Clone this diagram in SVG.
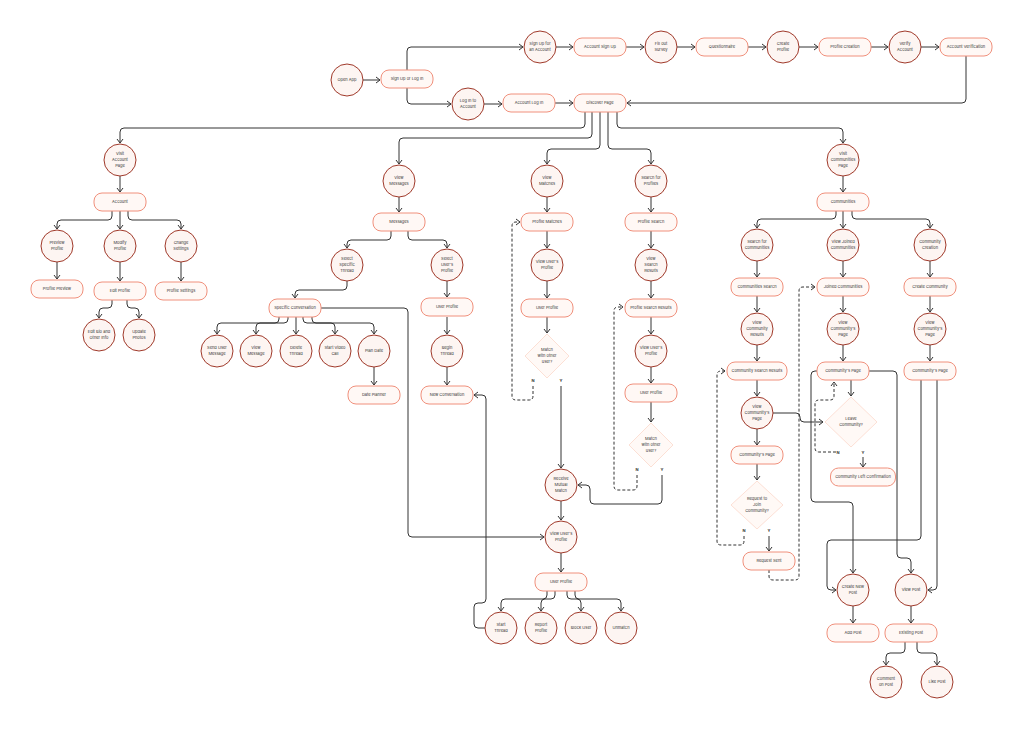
<svg xmlns="http://www.w3.org/2000/svg" width="1024" height="730" viewBox="0 0 1024 730">
<defs>
<style>
.c{fill:#fdf5f2;stroke:#a0392a;stroke-width:1}
.r{fill:#fff8f5;stroke:#f0907c;stroke-width:1}
.d{fill:#fff9f6;stroke:#fbd8cb;stroke-width:0.8}
text{font-family:Inter,"Liberation Sans",sans-serif;font-size:4px;fill:#333;text-anchor:middle}
.l{font-weight:bold;font-size:4px}
.e path{fill:none;stroke:#333;stroke-width:1;marker-end:url(#a)}
.e path.n{marker-end:none}
.e path.ds{stroke-dasharray:3 2}
</style>
<marker id="a" viewBox="-5 -4 6 8" refX="0" refY="0" markerWidth="6" markerHeight="8" markerUnits="userSpaceOnUse" orient="auto"><path d="M-4,-3 L0,0 L-4,3" fill="none" stroke="#333" stroke-width="1"/></marker>
</defs>
<rect width="1024" height="730" fill="#ffffff"/>

<g id="connectors" class="e">
<path d="M363,80 H380"/>
<path d="M407,70 V51 Q407,47 411,47 H523"/>
<path d="M407,88 V100 Q407,104 411,104 H451"/>
<path d="M556,47 H573"/>
<path d="M626,47 H644"/>
<path d="M677,47 H695"/>
<path d="M748,47 H766"/>
<path d="M799,47 H818"/>
<path d="M871,47 H888"/>
<path d="M921,47 H939"/>
<path d="M966,56 V99 Q966,103 962,103 H627"/>
<path d="M484,104 H502"/>
<path d="M555,103 H573"/>
<path d="M585,112 V124 Q585,128 581,128 H124 Q120,128 120,132 V143"/>
<path d="M592,112 V134 Q592,138 588,138 H403 Q399,138 399,142 V164"/>
<path d="M600,112 V145 Q600,149 596,149 H551 Q547,149 547,153 V164"/>
<path d="M608,112 V145 Q608,149 612,149 H647 Q651,149 651,153 V164"/>
<path d="M617,112 V124 Q617,128 621,128 H839 Q843,128 843,132 V143"/>
<path d="M120,176 V192"/>
<path d="M112,211 V216 Q112,220 108,220 H61 Q57,220 57,224 V229"/>
<path d="M120,211 V229"/>
<path d="M128,211 V216 Q128,220 132,220 H177 Q181,220 181,224 V229"/>
<path d="M57,262 V279"/>
<path d="M120,262 V281"/>
<path d="M181,262 V281"/>
<path d="M112,300 V304 Q112,308 108,308 H103 Q99,308 99,312 V318"/>
<path d="M127,300 V304 Q127,308 131,308 H135 Q139,308 139,312 V318"/>
<path d="M399,197 V212"/>
<path d="M391,231 V236 Q391,240 387,240 H351 Q347,240 347,244 V248"/>
<path d="M408,231 V236 Q408,240 412,240 H443 Q447,240 447,244 V248"/>
<path d="M347,281 V286 Q347,290 343,290 H299 Q295,290 295,294 V298"/>
<path d="M447,281 V297"/>
<path d="M447,317 V334"/>
<path d="M447,367 V385"/>
<path d="M279,317 V319 Q279,323 275,323 H221 Q217,323 217,327 V334"/>
<path d="M288,317 V319 Q288,323 284,323 H260 Q256,323 256,327 V334"/>
<path d="M296,317 V334"/>
<path d="M303,317 V319 Q303,323 307,323 H331 Q335,323 335,327 V334"/>
<path d="M312,317 V319 Q312,323 316,323 H370 Q374,323 374,327 V334"/>
<path d="M374,367 V385"/>
<path d="M321,308 H404 Q408,308 408,312 V533 Q408,537 412,537 H544"/>
<path d="M547,197 V212"/>
<path d="M547,231 V248"/>
<path d="M547,281 V298"/>
<path d="M547,317 V333"/>
<path class="ds" d="M533,386 V396 Q533,400 529,400 H516 Q512,400 512,396 V226 Q512,222 516,222 H520"/>
<path d="M561,386 V468"/>
<path d="M651,197 V212"/>
<path d="M651,231 V248"/>
<path d="M651,281 V298"/>
<path d="M651,317 V334"/>
<path d="M651,367 V383"/>
<path d="M651,402 V422"/>
<path class="ds" d="M637,475 V486 Q637,490 633,490 H618 Q614,490 614,486 V311 Q614,307 618,307 H623"/>
<path d="M662,475 V500 Q662,504 658,504 H594 Q590,504 590,500 V489 Q590,485 586,485 H578"/>
<path d="M561,501 V520"/>
<path d="M561,553 V572"/>
<path d="M547,591 V595 Q547,599 543,599 H505 Q501,599 501,603 V611"/>
<path d="M555,591 V595 Q555,599 551,599 H545 Q541,599 541,603 V611"/>
<path d="M567,591 V595 Q567,599 571,599 H577 Q581,599 581,603 V611"/>
<path d="M575,591 V595 Q575,599 579,599 H617 Q621,599 621,603 V611"/>
<path d="M485,628 H478 Q474,628 474,624 V607 Q474,603 478,603 H482 Q486,603 486,599 V399 Q486,395 482,395 H474"/>
<path d="M843,176 V192"/>
<path d="M836,211 V215 Q836,219 832,219 H761 Q757,219 757,223 V228"/>
<path d="M843,211 V228"/>
<path d="M852,211 V215 Q852,219 856,219 H926 Q930,219 930,223 V228"/>
<path d="M757,261 V277"/>
<path d="M843,261 V277"/>
<path d="M930,261 V277"/>
<path d="M757,296 V312"/>
<path d="M843,296 V312"/>
<path d="M930,296 V312"/>
<path d="M757,345 V361"/>
<path d="M843,345 V361"/>
<path d="M930,345 V361"/>
<path d="M757,380 V396"/>
<path d="M757,429 V445"/>
<path d="M757,464 V480"/>
<path class="ds" d="M744,536 V541 Q744,545 740,545 H721 Q717,545 717,541 V375 Q717,371 721,371 H725"/>
<path d="M769,536 V551"/>
<path class="ds" d="M769,570 V576 Q769,580 773,580 H795 Q799,580 799,576 V291 Q799,287 803,287 H815"/>
<path d="M773,413 H796 Q800,413 800,417 V418 Q800,422 804,422 H823"/>
<path d="M851,380 V396"/>
<path class="ds" d="M836,452 H819 Q815,452 815,448 V404 Q815,400 819,400 H830 Q834,400 834,396 V382"/>
<path d="M863,457 V467"/>
<path d="M817,371 H815 Q811,371 811,375 V498 Q811,502 815,502 H849 Q853,502 853,506 V573"/>
<path d="M869,371 H893 Q897,371 897,375 V554 Q897,558 901,558 H907 Q911,558 911,562 V573"/>
<path d="M921,380 V536 Q921,540 917,540 H831 Q827,540 827,544 V586 Q827,590 831,590 H836"/>
<path d="M937,380 V586 Q937,590 933,590 H928"/>
<path d="M853,606 V623"/>
<path d="M911,606 V623"/>
<path d="M905,642 V649 Q905,653 901,653 H890 Q886,653 886,657 V665"/>
<path d="M917,642 V649 Q917,653 921,653 H933 Q937,653 937,657 V665"/>
</g>

<g id="edge-labels">
<text class="l" x="533" y="382.4">N</text><text class="l" x="561" y="382.4">Y</text>
<text class="l" x="637" y="471.4">N</text><text class="l" x="662" y="471.4">Y</text>
<text class="l" x="744" y="532.4">N</text><text class="l" x="769" y="532.4">Y</text>
<text class="l" x="838" y="454.4">N</text><text class="l" x="863" y="454.4">Y</text>
</g>

<!-- Circles -->
<g id="open-app"><circle class="c" cx="347" cy="80" r="16"/><text x="347" y="81.4">Open App</text></g>
<g id="sign-up-for-account"><circle class="c" cx="540" cy="47" r="16"/><text x="540" y="45.4">Sign Up for</text><text x="540" y="51.4">an Account</text></g>
<g id="fill-out-survey"><circle class="c" cx="661" cy="47" r="16"/><text x="661" y="45.4">Fill out</text><text x="661" y="51.4">Survey</text></g>
<g id="create-profile"><circle class="c" cx="783" cy="47" r="16"/><text x="783" y="45.4">Create</text><text x="783" y="51.4">Profile</text></g>
<g id="verify-account"><circle class="c" cx="905" cy="47" r="16"/><text x="905" y="45.4">Verify</text><text x="905" y="51.4">Account</text></g>
<g id="log-in-to-account"><circle class="c" cx="468" cy="104" r="16"/><text x="468" y="102.4">Log In to</text><text x="468" y="108.4">Account</text></g>
<g id="visit-account-page"><circle class="c" cx="120" cy="160" r="16"/><text x="120" y="155.4">Visit</text><text x="120" y="161.4">Account</text><text x="120" y="167.4">Page</text></g>
<g id="preview-profile"><circle class="c" cx="57" cy="246" r="16"/><text x="57" y="244.4">Preview</text><text x="57" y="250.4">Profile</text></g>
<g id="modify-profile"><circle class="c" cx="120" cy="246" r="16"/><text x="120" y="244.4">Modify</text><text x="120" y="250.4">Profile</text></g>
<g id="change-settings"><circle class="c" cx="181" cy="246" r="16"/><text x="181" y="244.4">Change</text><text x="181" y="250.4">Settings</text></g>
<g id="edit-bio"><circle class="c" cx="99" cy="335" r="16"/><text x="99" y="333.4">Edit Bio and</text><text x="99" y="339.4">Other Info</text></g>
<g id="update-photos"><circle class="c" cx="139" cy="335" r="16"/><text x="139" y="333.4">Update</text><text x="139" y="339.4">Photos</text></g>
<g id="view-messages"><circle class="c" cx="399" cy="181" r="16"/><text x="399" y="179.4">View</text><text x="399" y="185.4">Messages</text></g>
<g id="select-specific-thread"><circle class="c" cx="347" cy="265" r="16"/><text x="347" y="260.4">Select</text><text x="347" y="266.4">Specific</text><text x="347" y="272.4">Thread</text></g>
<g id="select-users-profile"><circle class="c" cx="447" cy="265" r="16"/><text x="447" y="260.4">Select</text><text x="447" y="266.4">User's</text><text x="447" y="272.4">Profile</text></g>
<g id="send-user-message"><circle class="c" cx="217" cy="351" r="16"/><text x="217" y="349.4">Send User</text><text x="217" y="355.4">Message</text></g>
<g id="view-message"><circle class="c" cx="256" cy="351" r="16"/><text x="256" y="349.4">View</text><text x="256" y="355.4">Message</text></g>
<g id="delete-thread"><circle class="c" cx="296" cy="351" r="16"/><text x="296" y="349.4">Delete</text><text x="296" y="355.4">Thread</text></g>
<g id="start-video-call"><circle class="c" cx="335" cy="351" r="16"/><text x="335" y="349.4">Start Video</text><text x="335" y="355.4">Call</text></g>
<g id="plan-date"><circle class="c" cx="374" cy="351" r="16"/><text x="374" y="352.4">Plan Date</text></g>
<g id="begin-thread"><circle class="c" cx="447" cy="351" r="16"/><text x="447" y="349.4">Begin</text><text x="447" y="355.4">Thread</text></g>
<g id="view-matches"><circle class="c" cx="547" cy="181" r="16"/><text x="547" y="179.4">View</text><text x="547" y="185.4">Matches</text></g>
<g id="search-for-profiles"><circle class="c" cx="651" cy="181" r="16"/><text x="651" y="179.4">Search for</text><text x="651" y="185.4">Profiles</text></g>
<g id="view-users-profile-1"><circle class="c" cx="547" cy="265" r="16"/><text x="547" y="263.4">View User's</text><text x="547" y="269.4">Profile</text></g>
<g id="view-search-results"><circle class="c" cx="651" cy="265" r="16"/><text x="651" y="260.4">View</text><text x="651" y="266.4">Search</text><text x="651" y="272.4">Results</text></g>
<g id="view-users-profile-2"><circle class="c" cx="651" cy="351" r="16"/><text x="651" y="349.4">View User's</text><text x="651" y="355.4">Profile</text></g>
<g id="receive-mutual-match"><circle class="c" cx="561" cy="485" r="16"/><text x="561" y="480.4">Receive</text><text x="561" y="486.4">Mutual</text><text x="561" y="492.4">Match</text></g>
<g id="view-users-profile-3"><circle class="c" cx="561" cy="537" r="16"/><text x="561" y="535.4">View User's</text><text x="561" y="541.4">Profile</text></g>
<g id="start-thread"><circle class="c" cx="501" cy="628" r="16"/><text x="501" y="626.4">Start</text><text x="501" y="632.4">Thread</text></g>
<g id="report-profile"><circle class="c" cx="541" cy="628" r="16"/><text x="541" y="626.4">Report</text><text x="541" y="632.4">Profile</text></g>
<g id="block-user"><circle class="c" cx="581" cy="628" r="16"/><text x="581" y="629.4">Block User</text></g>
<g id="unmatch"><circle class="c" cx="621" cy="628" r="16"/><text x="621" y="629.4">Unmatch</text></g>
<g id="visit-communities-page"><circle class="c" cx="843" cy="160" r="16"/><text x="843" y="155.4">Visit</text><text x="843" y="161.4">Communities</text><text x="843" y="167.4">Page</text></g>
<g id="search-for-communities"><circle class="c" cx="757" cy="245" r="16"/><text x="757" y="243.4">Search for</text><text x="757" y="249.4">Communities</text></g>
<g id="view-joined-communities"><circle class="c" cx="843" cy="245" r="16"/><text x="843" y="243.4">View Joined</text><text x="843" y="249.4">Communities</text></g>
<g id="community-creation"><circle class="c" cx="930" cy="245" r="16"/><text x="930" y="243.4">Community</text><text x="930" y="249.4">Creation</text></g>
<g id="view-community-results"><circle class="c" cx="757" cy="329" r="16"/><text x="757" y="324.4">View</text><text x="757" y="330.4">Community</text><text x="757" y="336.4">Results</text></g>
<g id="view-communitys-page-1"><circle class="c" cx="843" cy="329" r="16"/><text x="843" y="324.4">View</text><text x="843" y="330.4">Community's</text><text x="843" y="336.4">Page</text></g>
<g id="view-communitys-page-2"><circle class="c" cx="930" cy="329" r="16"/><text x="930" y="324.4">View</text><text x="930" y="330.4">Community's</text><text x="930" y="336.4">Page</text></g>
<g id="view-communitys-page-3"><circle class="c" cx="757" cy="413" r="16"/><text x="757" y="408.4">View</text><text x="757" y="414.4">Community's</text><text x="757" y="420.4">Page</text></g>
<g id="create-new-post"><circle class="c" cx="853" cy="590" r="16"/><text x="853" y="588.4">Create New</text><text x="853" y="594.4">Post</text></g>
<g id="view-post"><circle class="c" cx="911" cy="590" r="16"/><text x="911" y="591.4">View Post</text></g>
<g id="comment-on-post"><circle class="c" cx="886" cy="682" r="16"/><text x="886" y="680.4">Comment</text><text x="886" y="686.4">on Post</text></g>
<g id="like-post"><circle class="c" cx="937" cy="682" r="16"/><text x="937" y="683.4">Like Post</text></g>

<!-- Rects -->
<g id="sign-up-or-log-in"><rect class="r" x="381" y="70" width="52" height="18" rx="8"/><text x="407" y="80.4">Sign Up or Log In</text></g>
<g id="account-sign-up"><rect class="r" x="574" y="38" width="52" height="18" rx="8"/><text x="600" y="48.4">Account Sign Up</text></g>
<g id="questionnaire"><rect class="r" x="696" y="38" width="52" height="18" rx="8"/><text x="722" y="48.4">Questionnaire</text></g>
<g id="profile-creation"><rect class="r" x="819" y="38" width="52" height="18" rx="8"/><text x="845" y="48.4">Profile Creation</text></g>
<g id="account-verification"><rect class="r" x="940" y="38" width="52" height="18" rx="8"/><text x="966" y="48.4">Account Verification</text></g>
<g id="account-log-in"><rect class="r" x="503" y="94" width="52" height="18" rx="8"/><text x="529" y="104.4">Account Log In</text></g>
<g id="discover-page"><rect class="r" x="574" y="94" width="52" height="18" rx="8"/><text x="600" y="104.4">Discover Page</text></g>
<g id="account"><rect class="r" x="94" y="193" width="52" height="18" rx="8"/><text x="120" y="203.4">Account</text></g>
<g id="profile-preview"><rect class="r" x="31" y="280" width="52" height="18" rx="8"/><text x="57" y="290.4">Profile Preview</text></g>
<g id="edit-profile"><rect class="r" x="94" y="282" width="52" height="18" rx="8"/><text x="120" y="292.4">Edit Profile</text></g>
<g id="profile-settings"><rect class="r" x="155" y="282" width="52" height="18" rx="8"/><text x="181" y="292.4">Profile Settings</text></g>
<g id="messages"><rect class="r" x="373" y="213" width="52" height="18" rx="8"/><text x="399" y="223.4">Messages</text></g>
<g id="specific-conversation"><rect class="r" x="269" y="299" width="52" height="18" rx="8"/><text x="295" y="309.4">Specific Conversation</text></g>
<g id="user-profile-1"><rect class="r" x="421" y="298" width="52" height="18" rx="8"/><text x="447" y="308.4">User Profile</text></g>
<g id="date-planner"><rect class="r" x="348" y="386" width="52" height="18" rx="8"/><text x="374" y="396.4">Date Planner</text></g>
<g id="new-conversation"><rect class="r" x="421" y="386" width="52" height="18" rx="8"/><text x="447" y="396.4">New Conversation</text></g>
<g id="profile-matches"><rect class="r" x="521" y="213" width="52" height="18" rx="8"/><text x="547" y="223.4">Profile Matches</text></g>
<g id="user-profile-2"><rect class="r" x="521" y="299" width="52" height="18" rx="8"/><text x="547" y="309.4">User Profile</text></g>
<g id="profile-search"><rect class="r" x="625" y="213" width="52" height="18" rx="8"/><text x="651" y="223.4">Profile Search</text></g>
<g id="profile-search-results"><rect class="r" x="625" y="299" width="52" height="18" rx="8"/><text x="651" y="309.4">Profile Search Results</text></g>
<g id="user-profile-3"><rect class="r" x="625" y="384" width="52" height="18" rx="8"/><text x="651" y="394.4">User Profile</text></g>
<g id="user-profile-4"><rect class="r" x="535" y="573" width="52" height="18" rx="8"/><text x="561" y="583.4">User Profile</text></g>
<g id="communities"><rect class="r" x="817" y="193" width="52" height="18" rx="8"/><text x="843" y="203.4">Communities</text></g>
<g id="communities-search"><rect class="r" x="731" y="278" width="52" height="18" rx="8"/><text x="757" y="288.4">Communities Search</text></g>
<g id="joined-communities"><rect class="r" x="817" y="278" width="52" height="18" rx="8"/><text x="843" y="288.4">Joined Communities</text></g>
<g id="create-community"><rect class="r" x="904" y="278" width="52" height="18" rx="8"/><text x="930" y="288.4">Create Community</text></g>
<g id="community-search-results"><rect class="r" x="727" y="362" width="60" height="18" rx="8"/><text x="757" y="372.4">Community Search Results</text></g>
<g id="communitys-page-1"><rect class="r" x="817" y="362" width="52" height="18" rx="8"/><text x="843" y="372.4">Community's Page</text></g>
<g id="communitys-page-2"><rect class="r" x="904" y="362" width="52" height="18" rx="8"/><text x="930" y="372.4">Community's Page</text></g>
<g id="communitys-page-3"><rect class="r" x="731" y="446" width="52" height="18" rx="8"/><text x="757" y="456.4">Community's Page</text></g>
<g id="request-sent"><rect class="r" x="743" y="552" width="52" height="18" rx="8"/><text x="769" y="562.4">Request Sent</text></g>
<g id="community-left-confirmation"><rect class="r" x="830.5" y="468" width="65" height="18" rx="8"/><text x="863" y="478.4">Community Left Confirmation</text></g>
<g id="add-post"><rect class="r" x="827" y="624" width="52" height="18" rx="8"/><text x="853" y="634.4">Add Post</text></g>
<g id="existing-post"><rect class="r" x="885" y="624" width="52" height="18" rx="8"/><text x="911" y="634.4">Existing Post</text></g>

<!-- Diamonds -->
<g id="match-1"><polygon class="d" points="547,334 569,356 547,378 525,356"/><text x="547" y="351.4">Match</text><text x="547" y="357.4">with other</text><text x="547" y="363.4">user?</text></g>
<g id="match-2"><polygon class="d" points="651,423 673,445 651,467 629,445"/><text x="651" y="440.4">Match</text><text x="651" y="446.4">with other</text><text x="651" y="452.4">user?</text></g>
<g id="request-to-join"><polygon class="d" points="757,481 783,505 757,529 731,505"/><text x="757" y="500.4">Request to</text><text x="757" y="506.4">Join</text><text x="757" y="512.4">Community?</text></g>
<g id="leave-community"><polygon class="d" points="851,397 877,422 851,447 825,422"/><text x="851" y="420.4">Leave</text><text x="851" y="426.4">Community?</text></g>
</svg>
